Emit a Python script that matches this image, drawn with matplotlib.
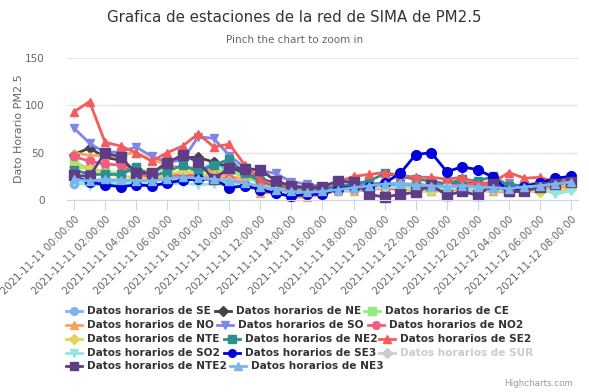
import matplotlib
matplotlib.use("Agg")
import matplotlib.pyplot as plt
from matplotlib.lines import Line2D
import pandas as pd

# hourly timestamps
times = pd.date_range("2021-11-11 00:00:00", periods=33, freq="h")
tick_labels = [t.strftime("%Y-%m-%d %H:%M:%S") for t in times[::2]]

se = [17, 18, 20, 20, 22, 22, 25, 28, 30, 40, 30, 25, 18, 12, 10, 9, 10, 12, 13, 14, 15, 15, 14, 13, 15, 14, 12, 13, 12, 14, 16, 17, 19]
ne = [48, 55, 45, 42, 30, 28, 40, 45, 45, 40, 35, 28, 22, 18, 14, 13, 12, 14, 15, 17, 17, 15, 15, 14, 16, 18, 17, 15, 14, 15, 17, 19, 21]
ce = [40, 33, 30, 28, 32, 30, 33, 35, 30, 33, 30, 25, 20, 16, 12, 10, 11, 12, 13, 14, 15, 16, 15, 13, 12, 14, 15, 13, 12, 13, 15, 16, 18]
no = [50, 47, 47, 48, 50, 42, 38, 33, 35, 30, 25, 22, 7, 8, 3, 3, 6, 10, 9, 11, 12, 11, 10, 9, 10, 11, 10, 9, 8, 10, 12, 13, 15]
so = [76, 60, 50, 51, 56, 46, 40, 42, 67, 65, 47, 34, 31, 28, 19, 17, 14, 12, 14, 18, 15, 16, 17, 15, 16, 15, 16, 12, 18, 13, 15, 17, 19]
no2 = [46, 41, 38, 37, 27, 25, 27, 25, 27, 25, 22, 18, 13, 10, 9, 9, 9, 10, 12, 14, 12, 12, 13, 14, 15, 17, 17, 15, 16, 14, 16, 18, 20]
nte = [35, 33, 28, 25, 24, 22, 27, 30, 28, 25, 20, 18, 15, 12, 10, 9, 8, 11, 13, 12, 14, 13, 10, 9, 12, 13, 11, 12, 9, 10, 8, 10, 12]
ne2 = [32, 27, 27, 27, 35, 25, 30, 37, 30, 37, 43, 28, 20, 15, 13, 12, 12, 15, 17, 20, 28, 25, 22, 20, 17, 22, 20, 25, 15, 16, 18, 20, 22]
se2 = [93, 104, 61, 57, 50, 41, 50, 57, 70, 56, 59, 37, 21, 16, 14, 13, 15, 19, 25, 27, 29, 26, 24, 24, 22, 24, 17, 19, 29, 23, 24, 19, 21]
so2 = [20, 15, 17, 18, 17, 16, 17, 18, 16, 17, 18, 15, 12, 10, 8, 7, 8, 10, 11, 12, 13, 14, 12, 11, 13, 12, 10, 11, 10, 12, 13, 6, 10]
se3 = [25, 19, 16, 14, 16, 15, 18, 21, 22, 22, 13, 15, 11, 7, 4, 6, 6, 12, 14, 14, 18, 28, 48, 50, 30, 35, 32, 24, 9, 14, 18, 23, 25]
nte2 = [26, 25, 50, 45, 29, 28, 39, 48, 40, 22, 34, 33, 32, 20, 15, 13, 14, 20, 19, 6, 3, 6, 8, 16, 5, 9, 5, 17, 9, 9, 14, 17, 19]
ne3 = [22, 20, 22, 21, 20, 20, 22, 24, 23, 22, 20, 18, 14, 11, 9, 8, 9, 11, 13, 15, 17, 18, 16, 15, 14, 15, 14, 13, 12, 14, 15, 17, 19]

stations = ["SE", "NE", "CE", "NO", "SO", "NO2", "NTE", "NE2", "SE2", "SO2", "SE3", "SUR", "NTE2", "NE3"]
series = [se, ne, ce, no, so, no2, nte, ne2, se2, so2, se3, None, nte2, ne3]
colors = ["#7cb5ec", "#434348", "#90ed7d", "#f7a35c", "#8085e9", "#f15c80", "#e4d354",
          "#2b908f", "#f45b5b", "#91e8e1", "#0000dd", "#cccccc", "#5e3c86", "#7cb5ec"]
markers = ["o", "D", "s", "^", "v", "o", "D", "s", "^", "v", "o", "D", "s", "^"]
msizes = [6, 5, 5.5, 6, 6, 6, 5, 5.5, 6, 6, 7, 5, 6.5, 6]

fig = plt.figure(figsize=(5.89, 3.92), dpi=100)
W, H = 589, 392
ax = fig.add_axes([67 / W, 1 - 200 / H, (578 - 67) / W, (200 - 58) / H])

x = range(len(times))
for vals, c, m, ms in zip(series, colors, markers, msizes):
    if vals is None:
        continue  # SUR is hidden in the original chart
    ax.plot(x, vals, color=c, marker=m, markersize=ms, linewidth=2, clip_on=False)

ax.set_xlim(-0.45, 32.45)
ax.set_ylim(0, 150)
ax.set_yticks([0, 50, 100, 150])
ax.grid(axis="y", color="#e6e6e6", linewidth=1)
ax.set_axisbelow(True)
for s in ["top", "right", "left"]:
    ax.spines[s].set_visible(False)
ax.spines["bottom"].set_color("#ccd6eb")
ax.tick_params(axis="y", length=0, labelsize=7.5, labelcolor="#666666", pad=16)
ax.set_xticks(list(x)[::2])
ax.set_xticklabels(tick_labels, rotation=45, ha="right", va="top", rotation_mode="anchor",
                   fontsize=7.3, color="#666666")
ax.tick_params(axis="x", length=7, color="#ccd6eb", pad=3)
ax.set_ylabel("Dato Horario PM2.5", fontsize=8, color="#666666", labelpad=1)

fig.text(0.5, 1 - 17 / H, "Grafica de estaciones de la red de SIMA de PM2.5",
         ha="center", va="center", fontsize=10.8, color="#333333")
fig.text(0.5, 1 - 40 / H, "Pinch the chart to zoom in",
         ha="center", va="center", fontsize=7.5, color="#666666")

# legend laid out like the Highcharts horizontal legend
rows_y = [311, 325, 339, 353, 366]
leg_pos = [(0, 74), (0, 223), (0, 372),
           (1, 74), (1, 225), (1, 376),
           (2, 74), (2, 232), (2, 387),
           (3, 74), (3, 232), (3, 387),
           (4, 74), (4, 238)]
for name, c, m, (r, cx) in zip(stations, colors, markers, leg_pos):
    yy = 1 - rows_y[r] / H
    fig.add_artist(Line2D([(cx - 8) / W, (cx + 8) / W], [yy, yy], color=c, linewidth=2,
                          transform=fig.transFigure))
    fig.add_artist(Line2D([cx / W], [yy], color=c, marker=m, markersize=5.5,
                          transform=fig.transFigure))
    tc = "#cccccc" if name == "SUR" else "#333333"
    fig.text((cx + 13) / W, yy, "Datos horarios de " + name, ha="left", va="center",
             fontsize=7.6, fontweight="bold", color=tc)

fig.text(573 / W, 1 - 384 / H, "Highcharts.com", ha="right", va="center",
         fontsize=6.3, color="#999999")

fig.savefig("out.png", dpi=100)
